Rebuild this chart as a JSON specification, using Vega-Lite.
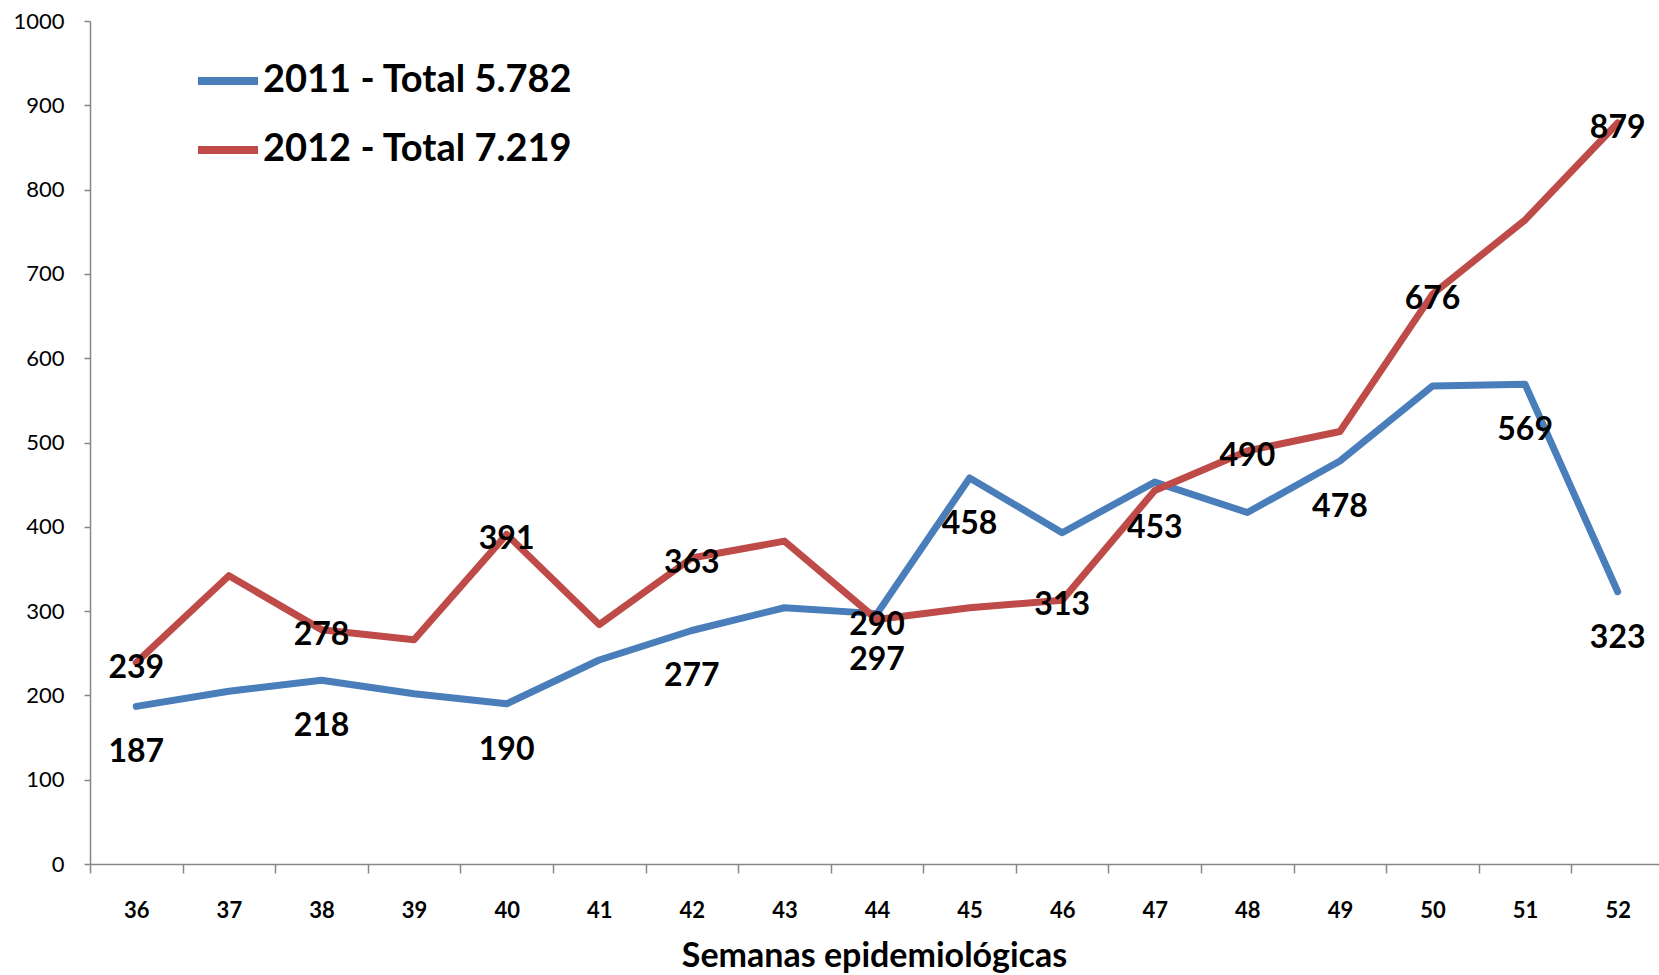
{
  "$schema": "https://vega.github.io/schema/vega-lite/v6.json",
  "width": 1574,
  "height": 843,
  "autosize": {"type": "none"},
  "padding": {"left": 90, "top": 21, "right": 0, "bottom": 111},
  "background": "white",
  "config": {
    "view": {"stroke": null},
    "font": "Lato",
    "axis": {"grid": false, "domainColor": "#868686", "tickColor": "#868686", "domainWidth": 1.5, "tickWidth": 1.5}
  },
  "data": {
    "values": [
      {"semana": "36", "serie": "2011 - Total 5.782", "casos": 187, "rotulo": 187},
      {"semana": "37", "serie": "2011 - Total 5.782", "casos": 205, "rotulo": null},
      {"semana": "38", "serie": "2011 - Total 5.782", "casos": 218, "rotulo": 218},
      {"semana": "39", "serie": "2011 - Total 5.782", "casos": 202, "rotulo": null},
      {"semana": "40", "serie": "2011 - Total 5.782", "casos": 190, "rotulo": 190},
      {"semana": "41", "serie": "2011 - Total 5.782", "casos": 242, "rotulo": null},
      {"semana": "42", "serie": "2011 - Total 5.782", "casos": 277, "rotulo": 277},
      {"semana": "43", "serie": "2011 - Total 5.782", "casos": 304, "rotulo": null},
      {"semana": "44", "serie": "2011 - Total 5.782", "casos": 297, "rotulo": 297},
      {"semana": "45", "serie": "2011 - Total 5.782", "casos": 458, "rotulo": 458},
      {"semana": "46", "serie": "2011 - Total 5.782", "casos": 393, "rotulo": null},
      {"semana": "47", "serie": "2011 - Total 5.782", "casos": 453, "rotulo": 453},
      {"semana": "48", "serie": "2011 - Total 5.782", "casos": 417, "rotulo": null},
      {"semana": "49", "serie": "2011 - Total 5.782", "casos": 478, "rotulo": 478},
      {"semana": "50", "serie": "2011 - Total 5.782", "casos": 567, "rotulo": null},
      {"semana": "51", "serie": "2011 - Total 5.782", "casos": 569, "rotulo": 569},
      {"semana": "52", "serie": "2011 - Total 5.782", "casos": 323, "rotulo": 323},
      {"semana": "36", "serie": "2012 - Total 7.219", "casos": 239, "rotulo": 239},
      {"semana": "37", "serie": "2012 - Total 7.219", "casos": 342, "rotulo": null},
      {"semana": "38", "serie": "2012 - Total 7.219", "casos": 278, "rotulo": 278},
      {"semana": "39", "serie": "2012 - Total 7.219", "casos": 266, "rotulo": null},
      {"semana": "40", "serie": "2012 - Total 7.219", "casos": 391, "rotulo": 391},
      {"semana": "41", "serie": "2012 - Total 7.219", "casos": 284, "rotulo": null},
      {"semana": "42", "serie": "2012 - Total 7.219", "casos": 363, "rotulo": 363},
      {"semana": "43", "serie": "2012 - Total 7.219", "casos": 383, "rotulo": null},
      {"semana": "44", "serie": "2012 - Total 7.219", "casos": 290, "rotulo": 290},
      {"semana": "45", "serie": "2012 - Total 7.219", "casos": 304, "rotulo": null},
      {"semana": "46", "serie": "2012 - Total 7.219", "casos": 313, "rotulo": 313},
      {"semana": "47", "serie": "2012 - Total 7.219", "casos": 443, "rotulo": null},
      {"semana": "48", "serie": "2012 - Total 7.219", "casos": 490, "rotulo": 490},
      {"semana": "49", "serie": "2012 - Total 7.219", "casos": 513, "rotulo": null},
      {"semana": "50", "serie": "2012 - Total 7.219", "casos": 676, "rotulo": 676},
      {"semana": "51", "serie": "2012 - Total 7.219", "casos": 764, "rotulo": null},
      {"semana": "52", "serie": "2012 - Total 7.219", "casos": 879, "rotulo": 879}
    ]
  },
  "encoding": {
    "x": {
      "field": "semana", "type": "ordinal", "bandPosition": 0.5,
      "scale": {"type": "band", "paddingInner": 0, "paddingOuter": 0},
      "axis": {
        "title": "Semanas epidemiológicas", "labelAngle": 0, "tickBand": "extent",
        "labelFontWeight": "bold", "labelFontSize": 22, "labelColor": "#000",
        "tickSize": 9, "labelPadding": 27,
        "titleFontSize": 34, "titleFontWeight": "bold", "titleColor": "#000", "titlePadding": 18,
        "titleX": 784
      }
    },
    "y": {
      "field": "casos", "type": "quantitative",
      "scale": {"domain": [0, 1000], "nice": false},
      "axis": {
        "title": null, "values": [0, 100, 200, 300, 400, 500, 600, 700, 800, 900, 1000], "format": "d",
        "labelFontSize": 22, "labelColor": "#000", "tickSize": 6, "labelPadding": 20
      }
    }
  },
  "layer": [
    {
      "mark": {"type": "line", "strokeWidth": 7, "strokeJoin": "round", "strokeCap": "round"},
      "encoding": {
        "color": {
          "field": "serie", "type": "nominal",
          "scale": {"domain": ["2011 - Total 5.782", "2012 - Total 7.219"], "range": ["#4A7EBB", "#BE4B48"]},
          "legend": {
            "title": null, "orient": "none", "legendX": 104, "legendY": 26,
            "symbolType": "stroke", "symbolSize": 3600, "symbolStrokeWidth": 8,
            "labelFontSize": 38, "labelFontWeight": "bold", "labelColor": "#000",
            "labelOffset": 1, "rowPadding": 16, "padding": 0, "labelLimit": 600
          }
        }
      }
    },
    {
      "transform": [{"filter": "datum.rotulo != null && datum.serie == '2011 - Total 5.782'"}],
      "mark": {"type": "text", "fontSize": 32, "fontWeight": "bold", "color": "#000", "dy": 46},
      "encoding": {"text": {"field": "rotulo", "type": "quantitative"}}
    },
    {
      "transform": [{"filter": "datum.rotulo != null && datum.serie == '2012 - Total 7.219'"}],
      "mark": {"type": "text", "fontSize": 32, "fontWeight": "bold", "color": "#000", "dy": 5},
      "encoding": {"text": {"field": "rotulo", "type": "quantitative"}}
    }
  ]
}
